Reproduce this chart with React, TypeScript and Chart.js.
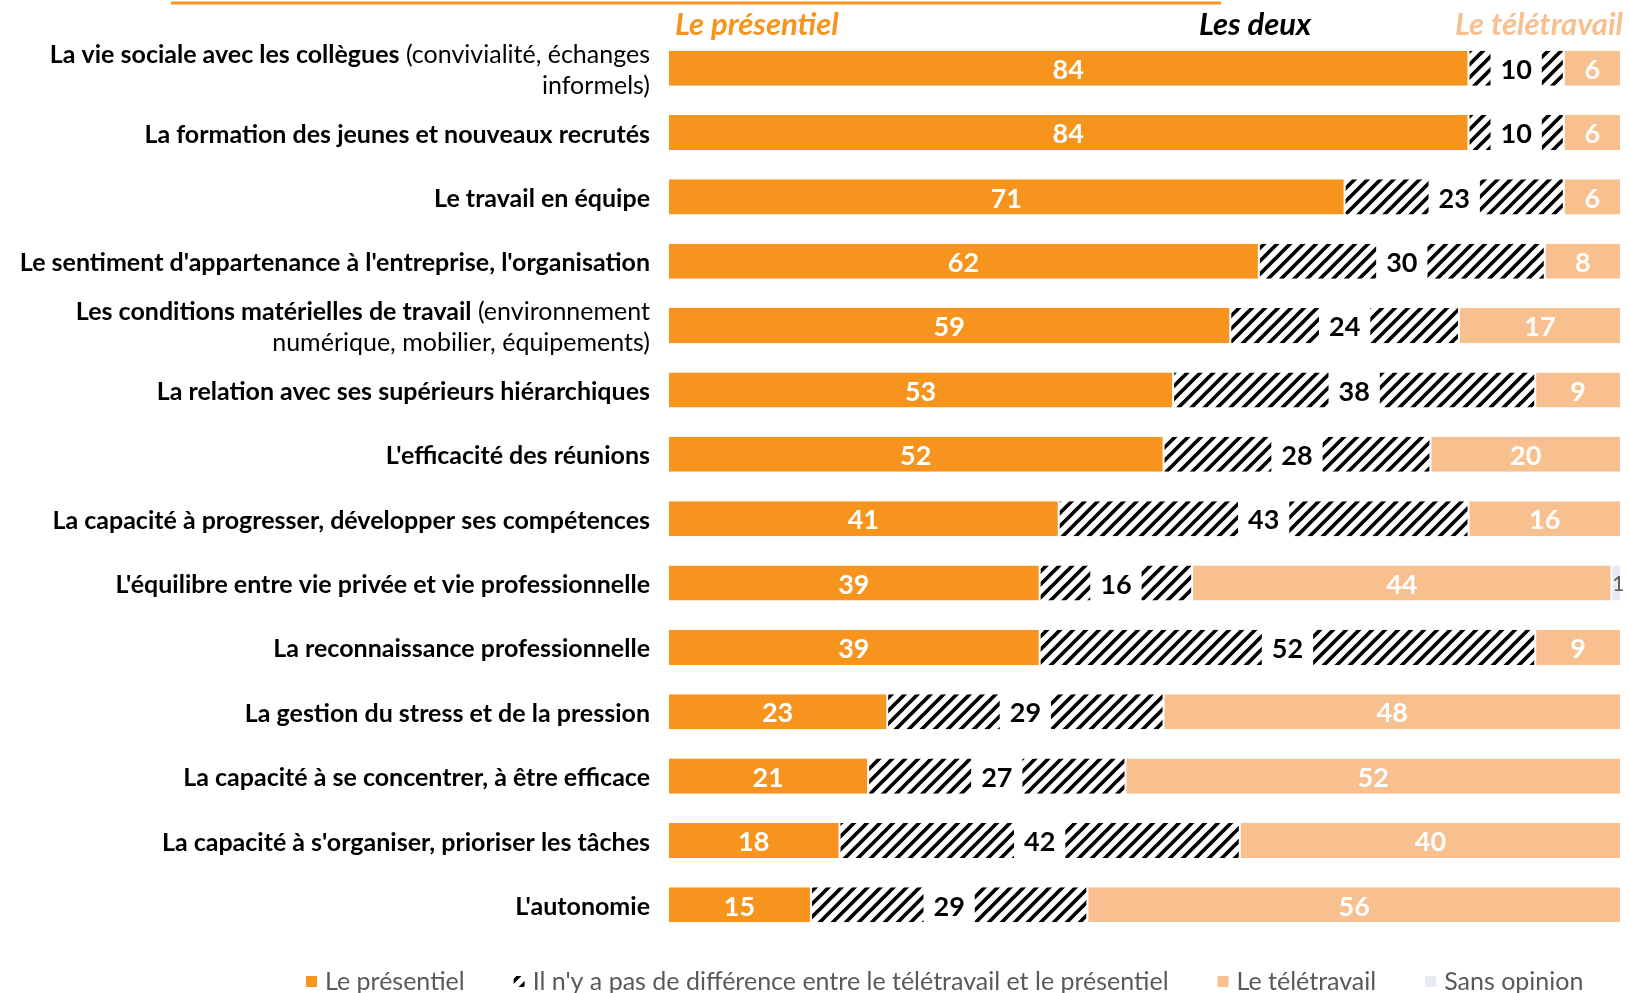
import { useEffect, useRef } from "react";
import { Chart, registerables } from "chart.js";

Chart.register(...registerables);

// ---- Data ----
const labelBold = [
  "La vie sociale avec les collègues",
  "La formation des jeunes et nouveaux recrutés",
  "Le travail en équipe",
  "Le sentiment d'appartenance à l'entreprise, l'organisation",
  "Les conditions matérielles de travail",
  "La relation avec ses supérieurs hiérarchiques",
  "L'efficacité des réunions",
  "La capacité à progresser, développer ses compétences",
  "L'équilibre entre vie privée et vie professionnelle",
  "La reconnaissance professionnelle",
  "La gestion du stress et de la pression",
  "La capacité à se concentrer, à être efficace",
  "La capacité à s'organiser, prioriser les tâches",
  "L'autonomie",
];
const labelRestLine1 = ["(convivialité, échanges", "", "", "", "(environnement", "", "", "", "", "", "", "", "", ""];
const labelRestLine2 = ["informels)", "", "", "", "numérique, mobilier, équipements)", "", "", "", "", "", "", "", "", ""];

const presentiel = [84, 84, 71, 62, 59, 53, 52, 41, 39, 39, 23, 21, 18, 15];
const lesDeux = [10, 10, 23, 30, 24, 38, 28, 43, 16, 52, 29, 27, 42, 29];
const teletravail = [6, 6, 6, 8, 17, 9, 20, 16, 44, 9, 48, 52, 40, 56];
const sansOpinion = [0, 0, 0, 0, 0, 0, 0, 0, 1, 0, 0, 0, 0, 0];

const seriesNames = [
  "Le présentiel",
  "Il n'y a pas de différence entre le télétravail et le présentiel",
  "Le télétravail",
  "Sans opinion",
];
const headerNames = ["Le présentiel", "Les deux", "Le télétravail"];

const ORANGE = "#F7941D";
const LIGHT = "#F9C08F";
const SANS = "#E7EBF3";
const FONT = "Lato, 'Open Sans', sans-serif";

function makeHatch(): CanvasPattern | string {
  const s = 13;
  const c = document.createElement("canvas");
  c.width = s;
  c.height = s;
  const g = c.getContext("2d");
  if (!g) return "#000";
  g.fillStyle = "#fff";
  g.fillRect(0, 0, s, s);
  g.strokeStyle = "#000";
  g.lineWidth = 3.7;
  g.lineCap = "square";
  for (const k of [-s, 0, s]) {
    g.beginPath();
    g.moveTo(k, s);
    g.lineTo(k + s, 0);
    g.stroke();
  }
  const p = g.createPattern(c, "repeat");
  return p || "#000";
}

export default function App() {
  const ref = useRef<HTMLCanvasElement | null>(null);

  useEffect(() => {
    const canvas = ref.current;
    if (!canvas) return;
    const hatch = makeHatch();

    const rowLabels = {
      id: "rowLabels",
      afterDraw(chart: any) {
        const ctx = chart.ctx;
        const yScale = chart.scales.y;
        const right = 650;
        const LS = 25;
        ctx.save();
        ctx.textBaseline = "middle";
        ctx.fillStyle = "#000";
        labelBold.forEach((b, i) => {
          const y = yScale.getPixelForValue(i) + 2;
          const r1 = labelRestLine1[i];
          const r2 = labelRestLine2[i];
          const y1 = r2 ? y - 15.5 : y;
          ctx.font = `bold ${LS}px ${FONT}`;
          const wb = ctx.measureText(b).width;
          ctx.font = `${LS}px ${FONT}`;
          const wr = r1 ? ctx.measureText(" " + r1).width : 0;
          const x = right - wb - wr;
          ctx.textAlign = "left";
          ctx.font = `bold ${LS}px ${FONT}`;
          ctx.fillText(b, x, y1);
          if (r1) {
            ctx.font = `${LS}px ${FONT}`;
            ctx.fillText(" " + r1, x + wb, y1);
          }
          if (r2) {
            ctx.textAlign = "right";
            ctx.font = `${LS}px ${FONT}`;
            ctx.fillText(r2, right, y + 15.5);
          }
        });

        // headers
        const xs = chart.scales.x;
        const area = chart.chartArea;
        ctx.font = `italic bold 31px ${FONT}`;
        ctx.textAlign = "left";
        ctx.fillStyle = ORANGE;
        ctx.fillText(headerNames[0], area.left + 7, 25);
        ctx.textAlign = "center";
        ctx.fillStyle = "#000";
        ctx.fillText(headerNames[1], xs.getPixelForValue(61.6), 25);
        ctx.textAlign = "right";
        ctx.fillStyle = LIGHT;
        ctx.fillText(headerNames[2], area.right + 2, 25);

        // top orange rule (title underline remnant)
        ctx.strokeStyle = ORANGE;
        ctx.lineWidth = 3;
        ctx.beginPath();
        ctx.moveTo(171, 3);
        ctx.lineTo(1221, 3);
        ctx.stroke();

        // legend
        const colors: any[] = [ORANGE, hatch, LIGHT, SANS];
        ctx.font = `25px ${FONT}`;
        ctx.textAlign = "left";
        let lx = 306;
        const ly = 982;
        seriesNames.forEach((n, i) => {
          ctx.fillStyle = colors[i];
          ctx.fillRect(lx, ly - 6, 11, 11);
          ctx.fillStyle = "#595959";
          ctx.fillText(n, lx + 19, ly);
          lx += 19 + ctx.measureText(n).width + 49;
        });
        ctx.restore();
      },
    };

    const valueLabels = {
      id: "valueLabels",
      afterDatasetsDraw(chart: any) {
        const ctx = chart.ctx;
        ctx.save();
        ctx.textBaseline = "middle";
        ctx.textAlign = "center";
        chart.data.datasets.forEach((ds: any, i: number) => {
          const meta = chart.getDatasetMeta(i);
          meta.data.forEach((el: any, j: number) => {
            const v = ds.data[j];
            if (!v) return;
            const p = el.getProps(["x", "y", "base", "height"], true);
            const cx = (p.x + p.base) / 2;
            const txt = String(v);
            if (i === 3) {
              ctx.font = `21px ${FONT}`;
              ctx.fillStyle = "#595959";
              ctx.fillText(txt, cx + 2, p.y + 1);
              return;
            }
            ctx.font = `bold 27px ${FONT}`;
            if (i === 1) {
              const w = ctx.measureText(txt).width;
              ctx.fillStyle = "#fff";
              ctx.fillRect(cx - w / 2 - 10, p.y - p.height / 2 - 1, w + 20, p.height + 2);
              ctx.fillStyle = "#000";
            } else {
              ctx.fillStyle = "#fff";
            }
            ctx.fillText(txt, cx, p.y + 2);
          });
        });
        ctx.restore();
      },
    };

    const common = {
      categoryPercentage: 1,
      barPercentage: 0.545,
      borderColor: "#fff",
      borderWidth: { left: 1, right: 1, top: 0, bottom: 0 },
      borderSkipped: false,
    };

    const chart = new Chart(canvas, {
      type: "bar",
      data: {
        labels: labelBold,
        datasets: [
          { label: seriesNames[0], data: presentiel, backgroundColor: ORANGE, ...common },
          { label: seriesNames[1], data: lesDeux, backgroundColor: hatch as any, ...common },
          { label: seriesNames[2], data: teletravail, backgroundColor: LIGHT, ...common },
          { label: seriesNames[3], data: sansOpinion, backgroundColor: SANS, ...common },
        ],
      },
      options: {
        indexAxis: "y",
        responsive: false,
        animation: false,
        devicePixelRatio: 1,
        layout: { padding: { left: 668, right: 8, top: 36, bottom: 56 } },
        scales: {
          x: { stacked: true, min: 0, max: 100, display: false },
          y: { stacked: true, display: false },
        },
        plugins: {
          legend: { display: false },
          tooltip: { enabled: false },
        },
      } as any,
      plugins: [rowLabels, valueLabels],
    });
    return () => chart.destroy();
  }, []);

  return (
    <div style={{ position: "absolute", left: 0, top: 0, width: 1629, height: 993, background: "#fff" }}>
      <canvas ref={ref} width={1629} height={993} style={{ display: "block" }} />
    </div>
  );
}
